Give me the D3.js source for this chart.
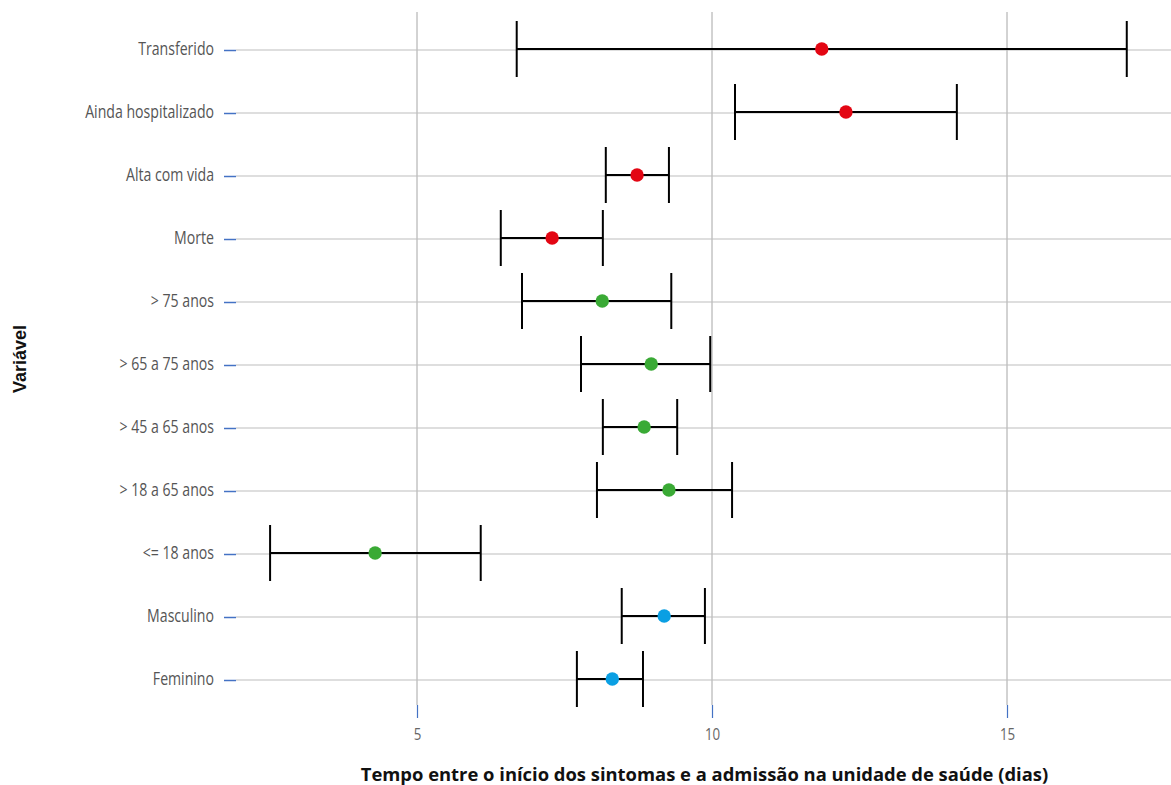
<!DOCTYPE html>
<html><head><meta charset="utf-8">
<script src="https://cdn.jsdelivr.net/npm/d3@7"></script>
<style>
html,body{margin:0;padding:0;background:#fff;}
</style></head>
<body>
<svg id="chart" width="1171" height="785"></svg>
<script>
const categories = ["Transferido","Ainda hospitalizado","Alta com vida","Morte","> 75 anos","> 65 a 75 anos","> 45 a 65 anos","> 18 a 65 anos","<= 18 anos","Masculino","Feminino"];
const estimates = [11.86,12.27,8.73,7.29,8.14,8.97,8.85,9.27,4.29,9.19,8.31];
const lowerCI  = [6.69,10.39,8.20,6.42,6.78,7.78,8.15,8.05,2.51,8.47,7.71];
const upperCI  = [17.03,14.15,9.27,8.15,9.31,9.97,9.41,10.34,6.08,9.88,8.83];
const groups   = ["desfecho","desfecho","desfecho","desfecho","idade","idade","idade","idade","idade","sexo","sexo"];
const xTicks = [5,10,15];
const xTitle = "Tempo entre o início dos sintomas e a admissão na unidade de saúde (dias)";
const yTitle = "Variável";

(function(){
const colors = {desfecho:"#e30613", idade:"#3aaa35", sexo:"#0a9fe3"};
const svg = d3.select("#chart");
const pLeft = 236, pRight = 1171, pTop = 12, pBottom = 705;

const x = d3.scaleLinear().domain([(pLeft-122)/59, (pRight-122)/59]).range([pLeft, pRight]);
const y = d3.scalePoint().domain(categories).range([49, 679]);

const labelFont = "'Open Sans','Noto Sans',sans-serif";

svg.append("g").selectAll("line").data(xTicks).join("line")
  .attr("x1", d=>x(d)).attr("x2", d=>x(d)).attr("y1", pTop).attr("y2", pBottom)
  .attr("stroke","#a6a6a6").attr("stroke-width",1);
svg.append("g").selectAll("line").data(categories).join("line")
  .attr("x1", pLeft).attr("x2", pRight).attr("y1", d=>y(d)+1).attr("y2", d=>y(d)+1)
  .attr("stroke","#bdbdbd").attr("stroke-width",1.2);

const xAxis = svg.append("g").attr("transform",`translate(0,${pBottom})`)
  .call(d3.axisBottom(x).tickValues(xTicks).tickSize(13).tickPadding(10).tickFormat(d3.format("d")));
xAxis.select(".domain").remove();
xAxis.selectAll(".tick line").attr("stroke","#4472c4").attr("stroke-width",1.2);
xAxis.selectAll(".tick text").attr("fill","#666").style("font-family",labelFont).style("font-size","17px");

const yAxis = svg.append("g").attr("transform",`translate(${pLeft},1)`)
  .call(d3.axisLeft(y).tickSize(12).tickPadding(10));
yAxis.select(".domain").remove();
yAxis.selectAll(".tick line").attr("stroke","#4472c4").attr("stroke-width",1.5);
yAxis.selectAll(".tick text").attr("fill","#555").attr("dy","0.27em").style("font-family",labelFont).style("font-size","18px");

let refW = 0;
yAxis.selectAll(".tick text").each(function(d){ if (d === "Ainda hospitalizado") refW = this.getComputedTextLength(); });
const sx = refW ? 129/refW : 0.8;
yAxis.selectAll(".tick text").each(function(){
  const tx = +d3.select(this).attr("x");
  d3.select(this).attr("x", tx/sx).attr("transform", `scale(${sx},1)`);
});
xAxis.selectAll(".tick text").attr("transform", `scale(${sx},1)`);

const rows = categories.map((c,i)=>({c, est:estimates[i], lo:lowerCI[i], hi:upperCI[i], g:groups[i]}));
const eb = svg.append("g");
eb.selectAll("line.h").data(rows).join("line").attr("class","h")
  .attr("x1",d=>x(d.lo)).attr("x2",d=>x(d.hi)).attr("y1",d=>y(d.c)).attr("y2",d=>y(d.c))
  .attr("stroke","#000").attr("stroke-width",2);
eb.selectAll("line.l").data(rows).join("line").attr("class","l")
  .attr("x1",d=>x(d.lo)).attr("x2",d=>x(d.lo)).attr("y1",d=>y(d.c)-28).attr("y2",d=>y(d.c)+28)
  .attr("stroke","#000").attr("stroke-width",2);
eb.selectAll("line.u").data(rows).join("line").attr("class","u")
  .attr("x1",d=>x(d.hi)).attr("x2",d=>x(d.hi)).attr("y1",d=>y(d.c)-28).attr("y2",d=>y(d.c)+28)
  .attr("stroke","#000").attr("stroke-width",2);
eb.selectAll("circle").data(rows).join("circle")
  .attr("cx",d=>x(d.est)).attr("cy",d=>y(d.c)).attr("r",6.7)
  .attr("fill",d=>colors[d.g]);

svg.append("text").attr("x",(pLeft+pRight)/2+1).attr("y",781).attr("text-anchor","middle")
  .style("font-family","'Open Sans',sans-serif").style("font-weight","bold").style("font-size","18.4px")
  .attr("fill","#111").text(xTitle);
svg.append("text").attr("transform","translate(26,359) rotate(-90)").attr("text-anchor","middle")
  .style("font-family","'Liberation Sans',Arial,sans-serif").style("font-weight","bold").style("font-size","18px")
  .attr("fill","#111").text(yTitle);
})();
</script>
</body></html>
